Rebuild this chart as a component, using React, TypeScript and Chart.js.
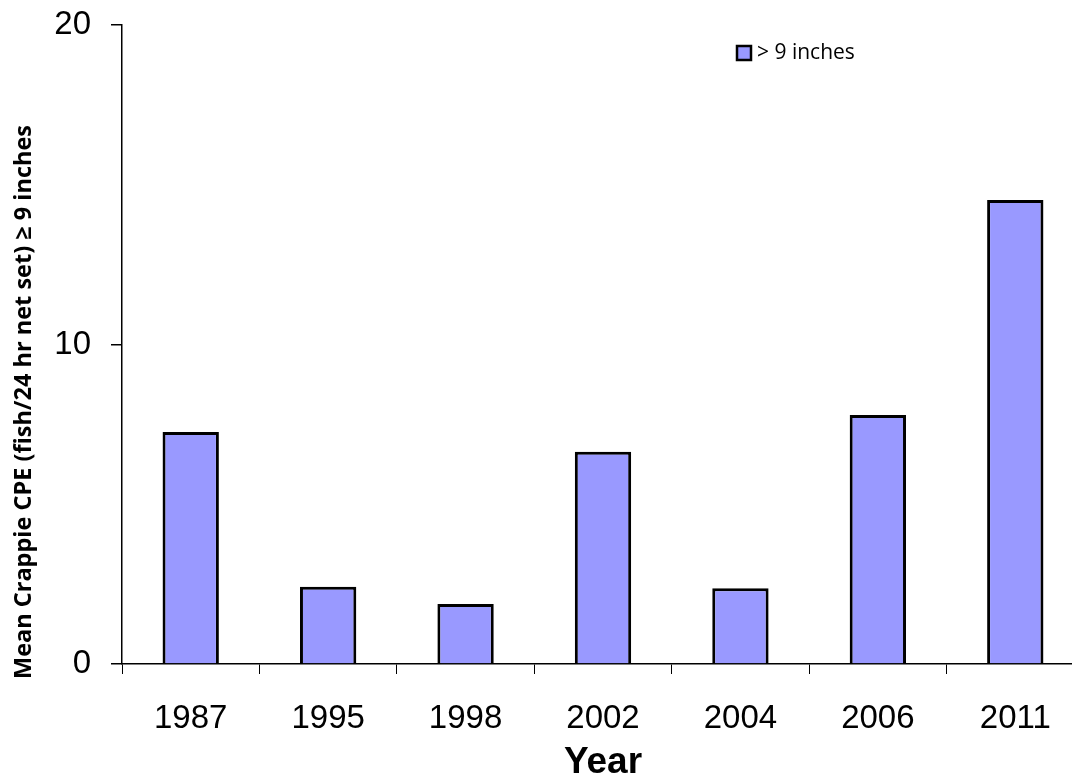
import React, { useEffect, useRef } from "react";
import { Chart, registerables } from "chart.js";

Chart.register(...registerables);

const categories = ["1987", "1995", "1998", "2002", "2004", "2006", "2011"];
const values = [7.26, 2.42, 1.88, 6.64, 2.37, 7.79, 14.52];
const seriesLabel = "> 9 inches";
const yTickValues = [0, 10, 20];
const yTitle = "Mean Crappie CPE (fish/24 hr net set) \u2265 9 inches";
const xTitle = "Year";

const customText = {
  id: "customText",
  afterDraw(chart: any) {
    const ctx = chart.ctx;
    ctx.save();
    ctx.fillStyle = "#000";
    ctx.font = `bold 23.5px "Open Sans"`;
    ctx.translate(24, 402);
    ctx.rotate(-Math.PI / 2);
    ctx.textAlign = "center";
    ctx.textBaseline = "middle";
    ctx.fillText(yTitle, 0, 0);
    ctx.restore();

    ctx.save();
    const lx = 737, ly = 46;
    ctx.fillStyle = "#9999FF";
    ctx.fillRect(lx, ly, 14, 14);
    ctx.strokeStyle = "#000";
    ctx.lineWidth = 2.5;
    ctx.strokeRect(lx, ly, 14, 14);
    ctx.fillStyle = "#000";
    ctx.font = `21px "Open Sans"`;
    ctx.textAlign = "left";
    ctx.textBaseline = "middle";
    ctx.fillText(chart.data.datasets[0].label, lx + 20, ly + 7);
    ctx.restore();
  },
};

export default function App() {
  const ref = useRef<HTMLCanvasElement>(null);
  useEffect(() => {
    if (!ref.current) return;
    const chart = new Chart(ref.current, {
      type: "bar",
      data: {
        labels: categories,
        datasets: [
          {
            label: seriesLabel,
            data: values,
            backgroundColor: "#9999FF",
            borderColor: "#000000",
            borderWidth: 3,
            categoryPercentage: 1,
            barPercentage: 0.41,
          },
        ],
      },
      plugins: [customText],
      options: {
        responsive: false,
        animation: false,
        layout: { padding: { left: 0, right: 16, top: 25, bottom: 0 } },
        plugins: {
          legend: { display: false },
          tooltip: { enabled: false },
        },
        scales: {
          x: {
            grid: {
              offset: true,
              drawOnChartArea: false,
              drawTicks: true,
              tickLength: 10,
              color: "#000",
              lineWidth: 1,
            },
            border: { color: "#000", width: 1.5 },
            ticks: {
              color: "#000",
              font: { family: "Arial, 'Liberation Sans'", size: 33 },
              padding: 25,
              maxRotation: 0,
            },
            title: {
              display: true,
              text: xTitle,
              color: "#000",
              font: { family: "Arial, 'Liberation Sans'", size: 37, weight: "bold", lineHeight: 1 },
              padding: { top: 12, bottom: -5 },
            },
            afterFit(axis: any) {
              axis.height = 112;
              axis.paddingLeft = 0;
              axis.paddingRight = 0;
            },
          },
          y: {
            min: 0,
            max: 20,
            afterBuildTicks(axis: any) {
              axis.ticks = yTickValues.map((v) => ({ value: v }));
            },
            grid: {
              drawOnChartArea: false,
              drawTicks: true,
              tickLength: 11,
              color: "#000",
              lineWidth: 1.5,
            },
            border: { color: "#000", width: 1.5 },
            ticks: {
              color: "#000",
              font: { family: "Arial, 'Liberation Sans'", size: 33 },
              padding: 20,
            },
            afterFit(axis: any) {
              axis.width = 122;
              axis.paddingTop = 0;
              axis.paddingBottom = 0;
            },
          },
        },
      },
    });
    return () => chart.destroy();
  }, []);
  return (
    <div
      style={{
        position: "fixed",
        left: 0,
        top: 0,
        width: 1072,
        height: 776,
        overflow: "hidden",
        background: "#fff",
      }}
    >
      <canvas ref={ref} width={1100} height={776} style={{ display: "block" }} />
    </div>
  );
}
